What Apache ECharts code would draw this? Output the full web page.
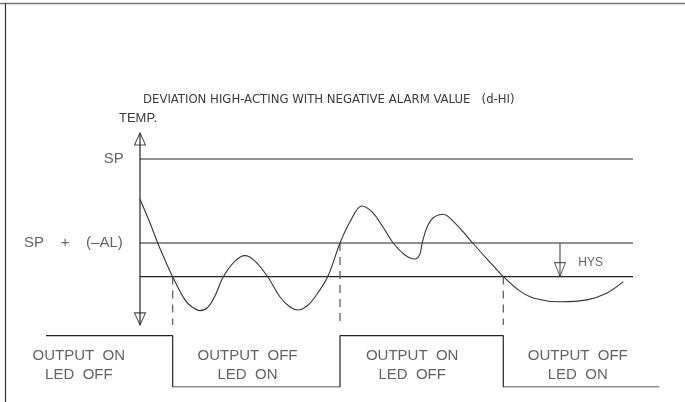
<!DOCTYPE html>
<html>
<head>
<meta charset="utf-8">
<script src="https://cdn.jsdelivr.net/npm/echarts@6/dist/echarts.min.js"></script>
<style>
html,body{margin:0;padding:0;background:#fff;}
#chart{width:685px;height:402px;}
</style>
</head>
<body>
<div id="chart"></div>
<script>
// ---- data ----
const titleText = 'DEVIATION HIGH-ACTING WITH NEGATIVE ALARM VALUE   (d-HI)';
const axisName = 'TEMP.';
const SP = 100;          // set point
const AL = -40;          // alarm value (negative)
const HYS = 16;          // hysteresis
const levelLabels = ['SP', 'SP    +    (\u2013AL)'];

// process temperature curve (time, temperature)
const curveTime = [0, 2.03, 3.59, 5.07, 6.63, 9.13, 10.55, 12.17, 13.79, 15.21, 16.9, 19.27, 21.3, 23.33, 25.9, 28.4, 30.43, 32.11, 33.87, 35.5, 38.07, 40.57, 42.6, 44.97, 47.06, 49.29, 51.38, 53.75, 55.78, 56.8, 57.14, 58.15, 59.43, 61.52, 63.89, 65.92, 67.48, 70.59, 73.69, 77.08, 80.12, 85.19, 90.67, 94.73, 98.03];
const curveTemp = [80.8, 69.5, 60, 51.9, 43.9, 32.9, 29.5, 27.8, 29.5, 34.8, 43.9, 51.4, 54, 51.4, 43.9, 34.3, 29.5, 28.1, 30, 34.3, 43.9, 60, 70.1, 77.6, 74.8, 67.6, 60, 54.3, 52.4, 54.8, 59, 67.1, 71.9, 73.7, 69.5, 64.3, 60, 51.9, 44, 37.1, 33.6, 32, 32.9, 36.2, 41.6];

// output switching
const switchTimes = [-19.07, 6.63, 40.57, 73.69, 105.3];
const outputStates = [1, 0, 1, 0];
const switchLevels = ['low', 'high', 'low'];   // which threshold triggered each switch
const stateLabels = [
  ['OUTPUT  ON', 'LED  OFF'],
  ['OUTPUT  OFF', 'LED  ON'],
  ['OUTPUT  ON', 'LED  OFF'],
  ['OUTPUT  OFF', 'LED  ON']
];
const stateLabelTimes = [-12.4, 21.8, 55.2, 88.8];
const axisTop = 112.4, axisBottom = 21;
const hysTime = 85.19;
const lineEnd = 100;

// ---- build ----
const upper = SP + AL;
const lower = SP + AL - HYS;
const FONT = "'Liberation Sans', Arial, sans-serif";
const COND = "'DejaVu Sans Condensed', 'Liberation Sans', sans-serif";
const INK = '#222';
const TXT = '#3a3a3a';

const curve = curveTime.map((t, i) => [t, curveTemp[i]]);
const wave = [];
outputStates.forEach((s, i) => {
  wave.push([switchTimes[i], s]);
  wave.push([switchTimes[i + 1], s]);
});

const series = [];
// y axis line
series.push({type: 'line', xAxisIndex: 0, yAxisIndex: 0, data: [[0, axisBottom], [0, axisTop]],
  showSymbol: false, lineStyle: {color: INK, width: 1.2}, silent: true});
// arrowheads on axis
series.push({type: 'scatter', xAxisIndex: 0, yAxisIndex: 0,
  data: [{value: [0, axisTop], symbolRotate: 0, symbolOffset: [0, '50%']},
         {value: [0, axisBottom], symbolRotate: 180, symbolOffset: [0, '-50%']}],
  symbol: 'triangle', symbolSize: [11, 12],
  itemStyle: {color: 'rgba(255,255,255,0)', borderColor: INK, borderWidth: 1.1}, silent: true});
// threshold lines
[SP, upper, lower].forEach(v => {
  series.push({type: 'line', xAxisIndex: 0, yAxisIndex: 0, data: [[0, v], [lineEnd, v]],
    showSymbol: false, lineStyle: {color: INK, width: 1.2}, silent: true});
});
// level labels
series.push({type: 'scatter', xAxisIndex: 0, yAxisIndex: 0, symbolSize: 0,
  data: [{value: [-3.3, SP], name: levelLabels[0]}, {value: [-3.5, upper], name: levelLabels[1]}],
  label: {show: true, position: 'left', distance: 0, formatter: p => p.name,
    fontFamily: FONT, fontSize: 15, color: TXT}, silent: true});
// HYS arrow
series.push({type: 'line', xAxisIndex: 0, yAxisIndex: 0, data: [[hysTime, upper], [hysTime, lower]],
  showSymbol: false, lineStyle: {color: '#333', width: 1}, silent: true});
series.push({type: 'scatter', xAxisIndex: 0, yAxisIndex: 0,
  data: [{value: [hysTime, lower], symbolRotate: 180, symbolOffset: [0, '-50%']}],
  symbol: 'triangle', symbolSize: [11, 14],
  itemStyle: {color: 'rgba(255,255,255,0)', borderColor: '#333', borderWidth: 1}, silent: true});
series.push({type: 'scatter', xAxisIndex: 0, yAxisIndex: 0, symbolSize: 0,
  data: [{value: [hysTime + 3.7, (upper + lower) / 2 - 1.5], name: 'HYS'}],
  label: {show: true, position: 'right', distance: 0, formatter: p => p.name,
    fontFamily: FONT, fontSize: 12, color: TXT}, silent: true});
// dashed switch lines
switchTimes.slice(1, -1).forEach((t, i) => {
  const v = switchLevels[i] === 'high' ? upper : lower;
  series.push({type: 'line', xAxisIndex: 0, yAxisIndex: 0, data: [[t, v], [t, axisBottom]],
    showSymbol: false, lineStyle: {color: '#555', width: 1.2, type: [8, 6]}, silent: true});
});
// temperature curve
series.push({type: 'line', xAxisIndex: 0, yAxisIndex: 0, data: curve, smooth: 0.35,
  showSymbol: false, lineStyle: {color: '#333', width: 1.1}, silent: true});
// output square wave
series.push({type: 'line', xAxisIndex: 1, yAxisIndex: 1, data: wave,
  showSymbol: false, lineStyle: {color: INK, width: 1.2}, silent: true});
// state labels
series.push({type: 'scatter', xAxisIndex: 1, yAxisIndex: 1, symbolSize: 0,
  data: stateLabels.map((lab, i) => ({value: [stateLabelTimes[i], 0.43], name: lab.join('\n')})),
  label: {show: true, position: 'inside', formatter: p => p.name, align: 'center',
    fontFamily: FONT, fontSize: 15, lineHeight: 19, color: TXT}, silent: true});

const chart = echarts.init(document.getElementById('chart'), null, {renderer: 'canvas'});
chart.setOption({
  animation: false,
  backgroundColor: '#fff',
  title: {text: titleText, left: 143, top: 93, padding: 0,
    textStyle: {fontFamily: COND, fontSize: 13, fontWeight: 'normal', color: TXT}},
  graphic: [
    {type: 'text', left: 119, top: 112, style: {text: axisName, font: "13px 'Liberation Sans', Arial, sans-serif", fill: TXT}},
    {type: 'line', shape: {x1: 0, y1: 3.5, x2: 685, y2: 3.5}, style: {stroke: '#777', lineWidth: 1.5}},
    {type: 'line', shape: {x1: 5.5, y1: 3, x2: 5.5, y2: 402}, style: {stroke: '#333', lineWidth: 1.2}}
  ],
  grid: [
    {left: 41.4, right: 22.42, top: 112.8, bottom: 75},
    {left: 41.4, right: 22.42, top: 335.7, bottom: 15}
  ],
  xAxis: [
    {type: 'value', gridIndex: 0, min: -20, max: 106, show: false},
    {type: 'value', gridIndex: 1, min: -20, max: 106, show: false}
  ],
  yAxis: [
    {type: 'value', gridIndex: 0, min: 20, max: 122, show: false},
    {type: 'value', gridIndex: 1, min: 0, max: 1, show: false}
  ],
  series: series
});
</script>
</body>
</html>
